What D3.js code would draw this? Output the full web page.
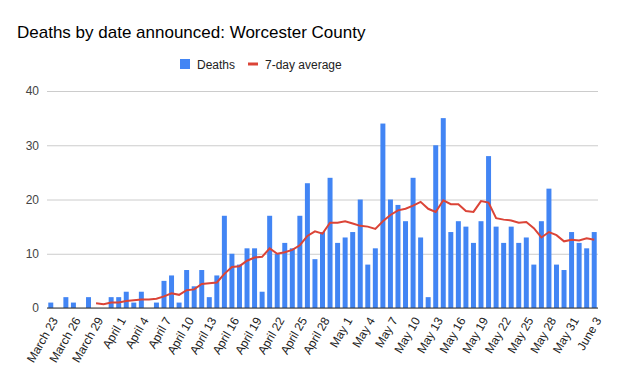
<!DOCTYPE html>
<html lang="en">
<head>
    <meta charset="UTF-8">
    <title>Deaths by date announced: Worcester County</title>
    <script src="https://d3js.org/d3.v7.min.js"></script>
    <style>
        body { margin: 0; background: #fff; }
        svg { display: block; font-family: "Liberation Sans", Arial, sans-serif; }
    </style>
</head>
<body>
    <svg width="617" height="381"></svg>

    <script>
    // dates, one per day, March 23 .. June 3
    const dates = d3.timeDay.range(new Date(2020, 2, 23), new Date(2020, 5, 4));
    const monthNames = ["January", "February", "March", "April", "May", "June"];

    const deaths = [
        1, 0, 2, 1, 0, 2, 0, 0, 2, 2,
        3, 1, 3, 0, 1, 5, 6, 1, 7, 4,
        7, 2, 6, 17, 10, 8, 11, 11, 3, 17,
        10, 12, 11, 17, 23, 9, 14, 24, 12, 13,
        14, 20, 8, 11, 34, 20, 19, 16, 24, 13,
        2, 30, 35, 14, 16, 15, 12, 16, 28, 15,
        12, 15, 12, 13, 8, 16, 22, 8, 7, 14,
        12, 11, 14
    ];

    // 7-day average, starts on March 29
    const avg = [
        null, null, null, null, null, null,
        0.86, 0.71, 1.0, 1.0, 1.29, 1.43, 1.57, 1.57, 1.71, 2.14,
        2.71, 2.43, 3.29, 3.43, 4.43, 4.57, 4.71, 6.29, 7.57, 7.71,
        8.71, 9.29, 9.43, 11.0, 10.0, 10.29, 10.71, 11.57, 13.29, 14.14,
        13.71, 15.71, 15.71, 16.0, 15.57, 15.14, 15.0, 14.57, 16.0, 17.14,
        18.0, 18.29, 18.86, 19.57, 18.29, 17.71, 19.86, 19.14, 19.14, 17.86,
        17.71, 19.71, 19.43, 16.57, 16.29, 16.14, 15.71, 15.86, 14.71, 13.0,
        14.0, 13.43, 12.29, 12.57, 12.43, 12.86, 12.57
    ];

    const yTicks = [0, 10, 20, 30, 40];

    const label = d => monthNames[d.getMonth()] + " " + d.getDate();

    const svg = d3.select("svg");
    const m = { left: 47, right: 19, top: 91, bottom: 73 };
    const width = 617, height = 381;

    const x = d3.scaleBand()
        .domain(dates.map((d, i) => i))
        .range([m.left, width - m.right])
        .paddingInner(0.34)
        .paddingOuter(0.17);

    const y = d3.scaleLinear().domain([0, 40]).range([height - m.bottom, m.top]);

    // title
    svg.append("text")
        .attr("x", 17).attr("y", 38)
        .attr("font-size", 17)
        .attr("fill", "#000")
        .text("Deaths by date announced: Worcester County");

    // legend
    const lg = svg.append("g").attr("font-size", 12).attr("fill", "#222");
    lg.append("rect").attr("x", 180).attr("y", 59).attr("width", 10).attr("height", 10).attr("fill", "#4285f4");
    lg.append("text").attr("x", 197).attr("y", 68.5).text("Deaths");
    lg.append("line").attr("x1", 248).attr("x2", 258).attr("y1", 64).attr("y2", 64)
        .attr("stroke", "#db4437").attr("stroke-width", 3);
    lg.append("text").attr("x", 265).attr("y", 68.5).text("7-day average");

    // grid + y labels
    const ya = svg.append("g")
        .attr("transform", `translate(${m.left},0)`)
        .call(d3.axisLeft(y).tickValues(yTicks).tickSize(-(width - m.left - m.right)).tickPadding(8));
    ya.select(".domain").remove();
    ya.selectAll(".tick line").attr("stroke", "#cccccc");
    ya.selectAll(".tick text")
        .attr("font-size", 12).attr("fill", "#444")
        .attr("font-family", "Liberation Sans, Arial, sans-serif");

    // bars
    svg.append("g").selectAll("rect")
        .data(deaths)
        .join("rect")
        .attr("x", (d, i) => x(i))
        .attr("width", x.bandwidth())
        .attr("y", d => y(d))
        .attr("height", d => y(0) - y(d))
        .attr("fill", "#4285f4");

    // baseline
    svg.append("line")
        .attr("x1", m.left).attr("x2", width - m.right)
        .attr("y1", y(0)).attr("y2", y(0))
        .attr("stroke", "#333").attr("stroke-width", 1);

    // 7-day average line
    const line = d3.line()
        .defined(d => d != null)
        .x((d, i) => x(i) + x.bandwidth() / 2)
        .y(d => y(d));
    svg.append("path")
        .datum(avg)
        .attr("d", line)
        .attr("fill", "none")
        .attr("stroke", "#db4437")
        .attr("stroke-width", 2);

    // x labels every 3 days
    svg.append("g").selectAll("text")
        .data(dates.map((d, i) => i).filter(i => i % 3 === 0))
        .join("text")
        .attr("transform", i => `translate(${x(i) + x.bandwidth() / 2 + 4},${y(0) + 10}) rotate(-60)`)
        .attr("text-anchor", "end")
        .attr("dy", "0.35em")
        .attr("font-size", 12)
        .attr("fill", "#222")
        .text(i => label(dates[i]));
    </script>
</body>
</html>
